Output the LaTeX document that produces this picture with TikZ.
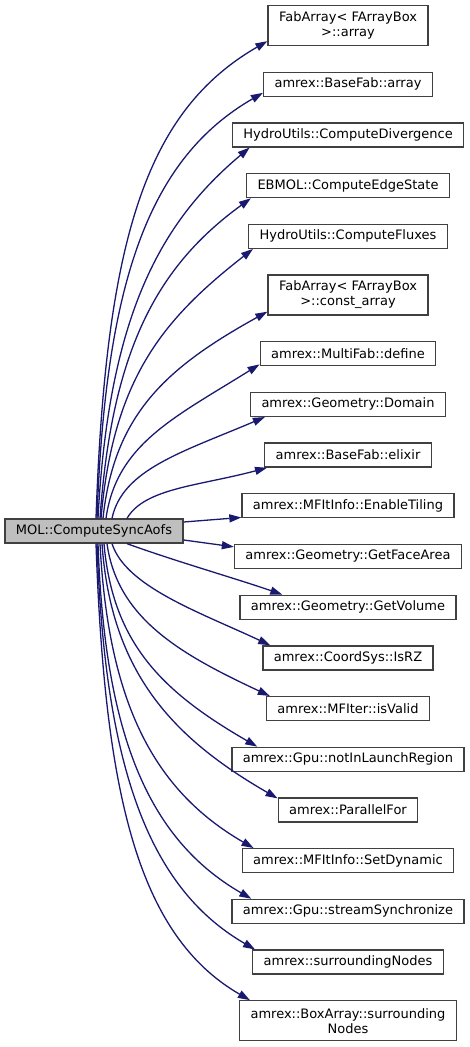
\documentclass[tikz,border=0pt]{standalone}
\usepackage{fontspec}
\setmainfont{DejaVu Sans}
\usepackage{tikz}
\usetikzlibrary{arrows.meta,positioning}
\definecolor{cgEdge}{HTML}{191970}
\definecolor{cgRoot}{HTML}{BFBFBF}
\definecolor{cgLine}{HTML}{404040}
\tikzset{
  % Caller box (grey)
  rootbox/.style={rectangle,draw=cgLine,fill=cgRoot,line width=1.3pt,
    minimum height=24pt,inner xsep=11pt,inner ysep=2pt,
    font=\fontsize{13pt}{15pt}\selectfont,text=black},
  % Callee box (white)
  fnbox/.style={rectangle,draw=cgLine,fill=white,line width=1.3pt,
    minimum height=24pt,inner xsep=11pt,inner ysep=2pt,align=center,
    font=\fontsize{13pt}{15pt}\selectfont,text=black},
  % Callee box, label on two lines
  fnboxii/.style={fnbox,minimum height=40pt},
  % Call edge
  call/.style={-{Triangle[length=12pt,width=8pt]},line width=1.3pt,color=cgEdge},
}
\begin{document}
\begin{tikzpicture}[x=1pt,y=-1pt,node distance=25.4pt]
  \useasboundingbox (0,0) rectangle (469,1047);

  %% --- CALLER ---
  \node[rootbox] (sync) at (94,531) {MOL::ComputeSyncAofs};

  %% --- CALLEES (one column) ---
  \node[fnboxii] (fabarr) at (348,25.5) {FabArray< FArrayBox\\>::array};
  \node[fnbox,below=of fabarr] (bfarr) {amrex::BaseFab::array};
  \node[fnbox,below=of bfarr] (hdiv) {HydroUtils::ComputeDivergence};
  \node[fnbox,below=of hdiv] (ebedge) {EBMOL::ComputeEdgeState};
  \node[fnbox,below=of ebedge] (hflux) {HydroUtils::ComputeFluxes};
  \node[fnboxii,below=of hflux] (fabcarr) {FabArray< FArrayBox\\>::const\_array};
  \node[fnbox,below=of fabcarr] (mfdef) {amrex::MultiFab::define};
  \node[fnbox,below=of mfdef] (gdom) {amrex::Geometry::Domain};
  \node[fnbox,below=of gdom] (bfelix) {amrex::BaseFab::elixir};
  \node[fnbox,below=of bfelix] (tiling) {amrex::MFItInfo::EnableTiling};
  \node[fnbox,below=of tiling] (gface) {amrex::Geometry::GetFaceArea};
  \node[fnbox,below=of gface] (gvol) {amrex::Geometry::GetVolume};
  \node[fnbox,below=of gvol] (isrz) {amrex::CoordSys::IsRZ};
  \node[fnbox,below=of isrz] (isvalid) {amrex::MFIter::isValid};
  \node[fnbox,below=of isvalid] (nolaunch) {amrex::Gpu::notInLaunchRegion};
  \node[fnbox,below=of nolaunch] (pfor) {amrex::ParallelFor};
  \node[fnbox,below=of pfor] (setdyn) {amrex::MFItInfo::SetDynamic};
  \node[fnbox,below=of setdyn] (strsync) {amrex::Gpu::streamSynchronize};
  \node[fnbox,below=of strsync] (surr) {amrex::surroundingNodes};
  \node[fnboxii,below=of surr] (basurr) {amrex::BoxArray::surrounding\\Nodes};

  %% --- CALLS, upper fan ---
  \draw[call] ([xshift=2pt]sync.north) .. controls +(88:280pt) and +(210:140pt) .. ([yshift=5pt]fabarr.south west);
  \draw[call] ([xshift=3pt]sync.north) .. controls +(88:240pt) and +(210:130pt) .. ([yshift=4pt]bfarr.south west);
  \draw[call] ([xshift=4pt]sync.north) .. controls +(87:205pt) and +(220:115pt) .. ([xshift=18pt]hdiv.south west);
  \draw[call] ([xshift=6pt]sync.north) .. controls +(86:170pt) and +(216:115pt) .. ([xshift=5pt]ebedge.south west);
  \draw[call] ([xshift=7pt]sync.north) .. controls +(85:140pt) and +(218:115pt) .. ([xshift=5pt]hflux.south west);
  \draw[call] ([xshift=9pt]sync.north) .. controls +(84:105pt) and +(209:115pt) .. ([yshift=4pt]fabcarr.south west);
  \draw[call] ([xshift=12pt]sync.north) .. controls +(82:75pt) and +(212:100pt) .. ([yshift=2pt]mfdef.south west);
  \draw[call] ([xshift=18pt]sync.north) .. controls +(78:50pt) and +(203:90pt) .. ([xshift=15pt]gdom.south west);
  \draw[call] ([xshift=33pt]sync.north) .. controls +(60:35pt) and +(195:70pt) .. ([xshift=3pt]bfelix.south west);
  \draw[call] ([yshift=9pt]sync.east) -- ([yshift=1pt]tiling.south west);

  %% --- CALLS, lower fan ---
  \draw[call] ([yshift=-9pt]sync.east) -- ([yshift=-3pt]gface.north west);
  \draw[call] ([xshift=33pt]sync.south) .. controls +(-20:50pt) and +(161:50pt) .. ([xshift=43pt]gvol.north west);
  \draw[call] ([xshift=18pt]sync.south) .. controls +(-72:45pt) and +(155:80pt) .. ([xshift=8pt]isrz.north west);
  \draw[call] ([xshift=13pt]sync.south) .. controls +(-82:75pt) and +(155:100pt) .. ([xshift=4pt]isvalid.north west);
  \draw[call] ([xshift=10pt]sync.south) .. controls +(-85:100pt) and +(150:110pt) .. ([xshift=26pt]nolaunch.north west);
  \draw[call] ([xshift=8pt]sync.south) .. controls +(-86:130pt) and +(150:120pt) .. ([yshift=-1pt]pfor.north west);
  \draw[call] ([xshift=6pt]sync.south) .. controls +(-87:160pt) and +(150:115pt) .. ([xshift=12pt]setdyn.north west);
  \draw[call] ([xshift=4pt]sync.south) .. controls +(-88:190pt) and +(150:120pt) .. ([xshift=20pt]strsync.north west);
  \draw[call] ([xshift=3pt]sync.south) .. controls +(-88:220pt) and +(150:125pt) .. ([xshift=3pt]surr.north west);
  \draw[call] ([xshift=2pt]sync.south) .. controls +(-88:250pt) and +(150:130pt) .. ([xshift=11pt]basurr.north west);
\end{tikzpicture}
\end{document}
